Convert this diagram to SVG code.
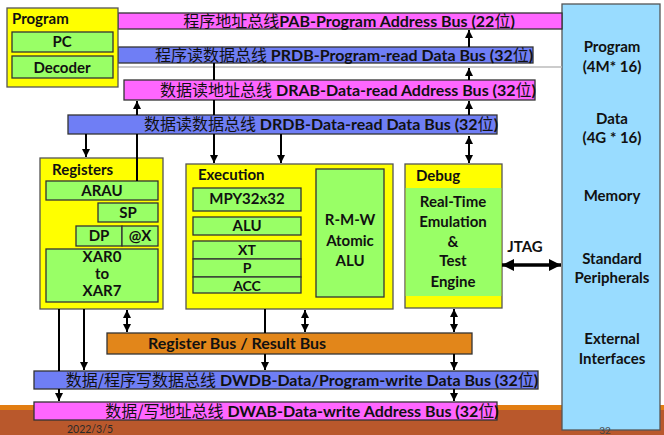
<svg xmlns="http://www.w3.org/2000/svg" width="664" height="435" viewBox="0 0 664 435">
<defs>
<style>
.t{font-family:Lato,"Noto Sans","Noto Sans CJK SC",sans-serif;font-weight:bold;fill:#111;}
.c{font-family:"Noto Sans CJK SC",sans-serif;font-weight:normal;}
.m{text-anchor:middle;}
.bp{fill:#ff66ff;stroke:#333;stroke-width:1.3;}
.bb{fill:#6f7ef5;stroke:#333;stroke-width:1.3;}
.y{fill:#ffff00;stroke:#555;stroke-width:1.3;}
.g{fill:#99ff66;stroke:#333;stroke-width:1.3;}
.ln{stroke:#000;stroke-width:2;fill:none;}
</style>
<marker id="ah" markerUnits="userSpaceOnUse" markerWidth="8" markerHeight="8" refX="7" refY="3.5" orient="auto-start-reverse" viewBox="0 0 7 7">
<path d="M0,0 L7,3.5 L0,7 z" fill="#000"/>
</marker>
<marker id="ahb" markerUnits="userSpaceOnUse" markerWidth="12" markerHeight="12" refX="11" refY="5.5" orient="auto-start-reverse" viewBox="0 0 11 11">
<path d="M0,0 L11,5.5 L0,11 z" fill="#000"/>
</marker>
</defs>

<g id="footer">
<rect x="0" y="405" width="664" height="5" fill="#e27d12"/>
<rect x="0" y="410" width="664" height="25" fill="#b9582c"/>
<text x="67" y="433" font-family="Lato,'Liberation Sans',sans-serif" font-size="10.5" fill="#2a2a2a">2022/3/5</text>
</g>

<g id="memory">
<rect x="562" y="4" width="98" height="426" fill="#99dcff" stroke="#555" stroke-width="1.3"/>
<text class="t m" font-size="15" x="612" y="52">Program</text>
<text class="t m" font-size="15" x="612" y="72">(4M* 16)</text>
<text class="t m" font-size="15" x="612" y="124">Data</text>
<text class="t m" font-size="15" x="612" y="143">(4G * 16)</text>
<text class="t m" font-size="15" x="612" y="201">Memory</text>
<text class="t m" font-size="15" x="612" y="264">Standard</text>
<text class="t m" font-size="15" x="612" y="283">Peripherals</text>
<text class="t m" font-size="15" x="612" y="344">External</text>
<text class="t m" font-size="15" x="612" y="364">Interfaces</text>
<text x="605" y="434" font-family="Lato,'Liberation Sans',sans-serif" font-size="10" fill="#444" text-anchor="middle">32</text>
</g>

<g id="pab">
<rect class="bp" x="118" y="13" width="444" height="16"/>
<text class="t m" font-size="16" x="349" y="27"><tspan class="c">程序地址总线</tspan>PAB-Program Address Bus (22<tspan class="c">位</tspan>)</text>
</g>
<g id="prdb">
<rect class="bb" x="118" y="47" width="415" height="16"/>
<line x1="118" y1="67" x2="562" y2="67" stroke="#bbb" stroke-width="1.5"/>
<text class="t m" font-size="16" x="344" y="61"><tspan class="c">程序读数据总线</tspan> PRDB-Program-read Data Bus (32<tspan class="c">位</tspan>)</text>
</g>
<g id="drab">
<rect class="bp" x="124" y="80" width="411" height="20"/>
<text class="t m" font-size="16" x="348" y="96"><tspan class="c">数据读地址总线</tspan> DRAB-Data-read Address Bus (32<tspan class="c">位</tspan>)</text>
</g>
<g id="drdb">
<rect class="bb" x="68" y="115" width="429" height="19"/>
<text class="t m" font-size="16" x="321" y="130"><tspan class="c">数据读数据总线</tspan> DRDB-Data-read Data Bus (32<tspan class="c">位</tspan>)</text>
</g>

<g id="program">
<rect class="y" x="7" y="8" width="111" height="79"/>
<text class="t" font-size="15" x="12" y="24">Program</text>
<rect class="g" x="12" y="32" width="101" height="20"/>
<text class="t m" font-size="15" x="62" y="47">PC</text>
<rect class="g" x="12" y="56" width="101" height="22"/>
<text class="t m" font-size="15" x="62" y="73">Decoder</text>
</g>

<g id="registers">
<rect class="y" x="40" y="158" width="123" height="151"/>
<text class="t" font-size="15" x="52" y="175">Registers</text>
<rect class="g" x="46" y="181" width="112" height="19"/>
<text class="t m" font-size="15" x="102" y="196">ARAU</text>
<rect class="g" x="98" y="203" width="60" height="19"/>
<text class="t m" font-size="15" x="128" y="218">SP</text>
<rect class="g" x="76" y="226" width="46" height="20"/>
<text class="t m" font-size="15" x="99" y="241">DP</text>
<rect class="g" x="122" y="226" width="36" height="20"/>
<text class="t m" font-size="15" x="140" y="241">@X</text>
<rect class="g" x="46" y="249" width="112" height="53"/>
<text class="t m" font-size="15" x="102" y="262">XAR0</text>
<text class="t m" font-size="15" x="102" y="279">to</text>
<text class="t m" font-size="15" x="102" y="296">XAR7</text>
</g>

<g id="execution">
<rect class="y" x="186" y="164" width="207" height="145"/>
<text class="t" font-size="15" x="198" y="180">Execution</text>
<rect class="g" x="193" y="188" width="108" height="23"/>
<text class="t m" font-size="15" x="247" y="204">MPY32x32</text>
<rect class="g" x="193" y="217" width="108" height="18"/>
<text class="t m" font-size="15" x="247" y="231">ALU</text>
<rect class="g" x="193" y="241" width="108" height="18"/>
<text class="t m" font-size="14" x="247" y="255">XT</text>
<rect class="g" x="193" y="259" width="108" height="18"/>
<text class="t m" font-size="14" x="247" y="273">P</text>
<rect class="g" x="193" y="277" width="108" height="16"/>
<text class="t m" font-size="14" x="247" y="291">ACC</text>
<rect class="g" x="316" y="169" width="68" height="128"/>
<text class="t m" font-size="15" x="350" y="225">R-M-W</text>
<text class="t m" font-size="15" x="350" y="246">Atomic</text>
<text class="t m" font-size="15" x="350" y="266">ALU</text>
</g>

<g id="debug">
<rect class="y" x="405" y="164" width="97" height="144"/>
<rect x="405.7" y="188" width="95.6" height="108" fill="#99ff66"/>
<text class="t" font-size="15" x="416" y="181">Debug</text>
<text class="t m" font-size="15" x="453" y="207">Real-Time</text>
<text class="t m" font-size="15" x="453" y="227">Emulation</text>
<text class="t m" font-size="15" x="453" y="247">&amp;</text>
<text class="t m" font-size="15" x="453" y="266">Test</text>
<text class="t m" font-size="15" x="453" y="287">Engine</text>
</g>

<g id="jtag">
<text class="t m" font-size="15" x="525" y="252">JTAG</text>
</g>

<g id="regbus">
<rect x="107" y="333" width="365" height="21" fill="#e2861a" stroke="#333" stroke-width="1.3"/>
<text class="t" font-size="16" x="148" y="349">Register Bus / Result Bus</text>
</g>

<g id="dwdb">
<rect class="bb" x="34" y="371" width="504" height="18"/>
<text class="t m" font-size="16" x="302" y="386"><tspan class="c">数据/程序写数据总线</tspan> DWDB-Data/Program-write Data Bus (32<tspan class="c">位</tspan>)</text>
</g>
<g id="dwab">
<rect class="bp" x="34" y="402" width="463" height="18"/>
<text class="t m" font-size="16" x="302" y="417"><tspan class="c">数据/写地址总线</tspan> DWAB-Data-write Address Bus (32<tspan class="c">位</tspan>)</text>
</g>

<g id="connectors">
<line class="ln" x1="469" y1="47" x2="469" y2="30" marker-end="url(#ah)"/>
<line class="ln" x1="469" y1="80" x2="469" y2="68" marker-end="url(#ah)"/>
<line class="ln" x1="469" y1="115" x2="469" y2="101" marker-end="url(#ah)"/>
<line class="ln" x1="469" y1="136" x2="469" y2="163" marker-start="url(#ah)" marker-end="url(#ah)"/>
<line class="ln" x1="214" y1="63" x2="214" y2="80"/>
<line class="ln" x1="214" y1="100" x2="214" y2="115"/>
<line class="ln" x1="214" y1="134" x2="214" y2="163" marker-end="url(#ah)"/>
<line class="ln" x1="281" y1="134" x2="281" y2="163" marker-end="url(#ah)"/>
<line class="ln" x1="86" y1="134" x2="86" y2="157" marker-end="url(#ah)"/>
<line class="ln" x1="137" y1="181" x2="137" y2="134"/>
<line class="ln" x1="137" y1="115" x2="137" y2="101" marker-end="url(#ah)"/>
<line class="ln" x1="59" y1="309" x2="59" y2="371"/>
<line class="ln" x1="59" y1="389" x2="59" y2="401" marker-end="url(#ah)"/>
<line class="ln" x1="84" y1="309" x2="84" y2="370" marker-end="url(#ah)"/>
<line class="ln" x1="127" y1="310" x2="127" y2="332" marker-start="url(#ah)" marker-end="url(#ah)"/>
<line class="ln" x1="265" y1="309" x2="265" y2="333"/>
<line class="ln" x1="265" y1="354" x2="265" y2="370" marker-end="url(#ah)"/>
<line class="ln" x1="305" y1="310" x2="305" y2="332" marker-start="url(#ah)" marker-end="url(#ah)"/>
<line class="ln" x1="454" y1="309" x2="454" y2="332" marker-start="url(#ah)" marker-end="url(#ah)"/>
<line class="ln" x1="454" y1="354" x2="454" y2="370" marker-end="url(#ah)"/>
<line class="ln" x1="454" y1="389" x2="454" y2="401" marker-end="url(#ah)"/>
<line x1="502" y1="265" x2="561" y2="265" stroke="#000" stroke-width="3.5" marker-start="url(#ahb)" marker-end="url(#ahb)"/>
</g>
</svg>
